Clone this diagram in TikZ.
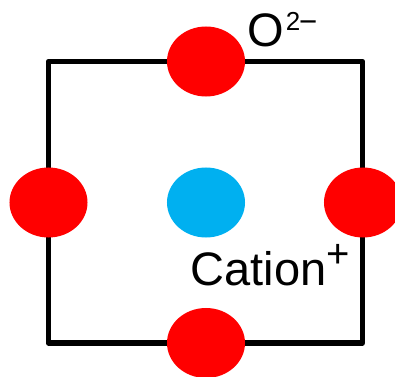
\documentclass[tikz,border=0pt]{standalone}
\usepackage{fontspec}
\setmainfont{Liberation Sans}
\usetikzlibrary{shapes.geometric}
\definecolor{ored}{HTML}{FF0000}
\definecolor{catblue}{HTML}{00B0F0}
\tikzset{
  ion/.style={ellipse, minimum width=78bp, minimum height=70bp, inner sep=0pt, draw=none},
  oxy/.style={ion, fill=ored},
  cat/.style={ion, fill=catblue},
  cell/.style={line width=5.5bp, line join=round},
  lbl/.style={inner sep=0pt, anchor=base west, font=\fontsize{47bp}{47bp}\selectfont}
}
\begin{document}
\begin{tikzpicture}[x=1bp,y=1bp]
\useasboundingbox (0,0) rectangle (395,377);
\clip (0,0) rectangle (395,377);
\coordinate (nw) at (48.5,315.5);
\coordinate (ne) at (362.5,315.5);
\coordinate (se) at (362.5,34);
\coordinate (sw) at (48.5,34);
\draw[cell] (nw) -- (ne) -- (se) -- (sw) -- cycle;
\node[oxy] (otop) at (206,315.5) {};
\node[oxy] (oleft) at (48.5,174.5) {};
\node[oxy] (oright) at (363,174.5) {};
\node[oxy] (obot) at (206,34) {};
\node[cat] (cation) at (206,174.5) {};
\node[lbl] (olabel) at (247.5,331) {O\hspace{1.5bp}\raisebox{15.5bp}{\fontsize{26bp}{26bp}\selectfont 2\hspace{0.3bp}\scalebox{1.05}[1.3]{–}}};
\node[lbl] (clabel) at (190.5,92) {Cation\raisebox{18bp}{\fontsize{40bp}{40bp}\selectfont +}};
\end{tikzpicture}
\end{document}
